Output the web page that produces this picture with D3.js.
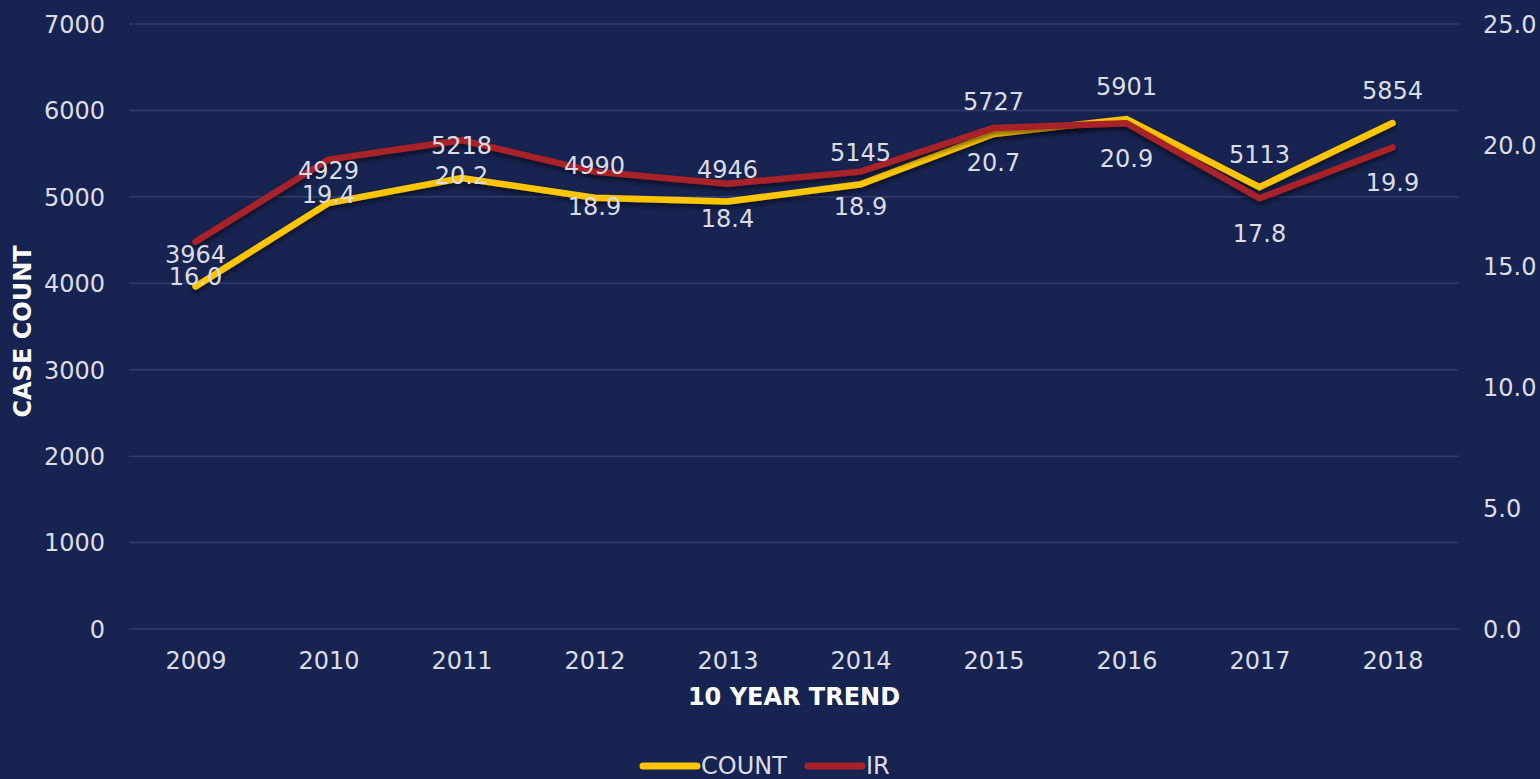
<!DOCTYPE html>
<html>
<head>
<meta charset="utf-8">
<script src="https://cdn.jsdelivr.net/npm/d3@7"></script>
<style>
  html, body { margin: 0; padding: 0; background: #172350; }
  svg { display: block; }
  text { font-family: "DejaVu Sans", Verdana, sans-serif; }
</style>
</head>
<body>
<svg id="chart" width="1540" height="779"></svg>
<script>
const years = ["2009","2010","2011","2012","2013","2014","2015","2016","2017","2018"];
const countValues = [3964,4929,5218,4990,4946,5145,5727,5901,5113,5854];
const irValues = [16.0,19.4,20.2,18.9,18.4,18.9,20.7,20.9,17.8,19.9];
const leftTicks = [0,1000,2000,3000,4000,5000,6000,7000];
const rightTicks = [0,5,10,15,20,25];
const seriesNames = ["COUNT","IR"];

const W = 1540, H = 779;
const plot = {left: 129, right: 1459, top: 24, bottom: 629};
const colors = {count: "#FFC600", ir: "#A8202A", text: "#DCDDE3", grid: "#323E69", bg: "#172350"};
const FS = 24;

const svg = d3.select("#chart");
svg.append("rect").attr("width", W).attr("height", H).attr("fill", colors.bg);

const defs = svg.append("defs");
const f = defs.append("filter").attr("id","shadow").attr("x","-5%").attr("y","-20%").attr("width","110%").attr("height","160%");
f.append("feDropShadow").attr("dx",0).attr("dy",3).attr("stdDeviation",2.5)
  .attr("flood-color","#000").attr("flood-opacity",0.55);

const x = d3.scalePoint().domain(years).range([plot.left, plot.right]).padding(0.5);
const yL = d3.scaleLinear().domain([0,7000]).range([plot.bottom, plot.top]);
const yR = d3.scaleLinear().domain([0,25]).range([plot.bottom, plot.top]);

// gridlines
svg.append("g").selectAll("line").data(leftTicks).join("line")
  .attr("x1", plot.left).attr("x2", plot.right)
  .attr("y1", d => yL(d)).attr("y2", d => yL(d))
  .attr("stroke", colors.grid).attr("stroke-width", 1.5);

// left axis
const gL = svg.append("g").attr("transform", `translate(105,0)`)
  .call(d3.axisLeft(yL).tickValues(leftTicks).tickSize(0).tickPadding(0).tickFormat(d3.format("d")));
gL.select(".domain").remove();
gL.selectAll("text").attr("fill", colors.text).style("font-size", FS + "px").attr("dy","0.35em");

// right axis
const gR = svg.append("g").attr("transform", `translate(1483,0)`)
  .call(d3.axisRight(yR).tickValues(rightTicks).tickSize(0).tickPadding(0).tickFormat(d3.format(".1f")));
gR.select(".domain").remove();
gR.selectAll("text").attr("fill", colors.text).style("font-size", FS + "px").attr("dy","0.35em");

// x axis
const gX = svg.append("g").attr("transform", `translate(0,661)`)
  .call(d3.axisBottom(x).tickSize(0).tickPadding(0));
gX.select(".domain").remove();
gX.selectAll("text").attr("fill", colors.text).style("font-size", FS + "px").attr("dy","0.35em");

// axis titles
svg.append("text").attr("x", (plot.left + plot.right) / 2).attr("y", 697).attr("dy","0.35em")
  .attr("text-anchor","middle").attr("fill","#fff").attr("font-weight","bold")
  .style("font-size","24px").text("10 YEAR TREND");
svg.append("text").attr("transform", `translate(23,${(plot.top + plot.bottom)/2 + 5}) rotate(-90)`)
  .attr("dy","0.35em").attr("text-anchor","middle").attr("fill","#fff").attr("font-weight","bold")
  .style("font-size","24px").text("CASE COUNT");

// lines
const lineC = d3.line().x((d,i) => x(years[i])).y(d => yL(d));
const lineI = d3.line().x((d,i) => x(years[i])).y(d => yR(d));

svg.append("path").datum(countValues).attr("d", lineC)
  .attr("fill","none").attr("stroke", colors.count).attr("stroke-width", 6.5)
  .attr("stroke-linecap","round").attr("stroke-linejoin","miter").attr("filter","url(#shadow)");
svg.append("path").datum(irValues).attr("d", lineI)
  .attr("fill","none").attr("stroke", colors.ir).attr("stroke-width", 6.5)
  .attr("stroke-linecap","round").attr("stroke-linejoin","miter").attr("filter","url(#shadow)");

// data labels
svg.append("g").selectAll("text").data(countValues).join("text")
  .attr("x", (d,i) => x(years[i])).attr("y", d => yL(d) - 32).attr("dy","0.35em")
  .attr("text-anchor","middle").attr("fill", colors.text).style("font-size", FS + "px")
  .text(d => d3.format("d")(d));
svg.append("g").selectAll("text").data(irValues).join("text")
  .attr("x", (d,i) => x(years[i])).attr("y", d => yR(d) + 35).attr("dy","0.35em")
  .attr("text-anchor","middle").attr("fill", colors.text).style("font-size", FS + "px")
  .text(d => d3.format(".1f")(d));

// legend
const legend = svg.append("g");
const legendItems = [
  {name: seriesNames[0], color: colors.count, x0: 643},
  {name: seriesNames[1], color: colors.ir, x0: 808}
];
legendItems.forEach(it => {
  legend.append("line").attr("x1", it.x0).attr("x2", it.x0 + 54).attr("y1", 766).attr("y2", 766)
    .attr("stroke", it.color).attr("stroke-width", 7).attr("stroke-linecap","round");
  legend.append("text").attr("x", it.x0 + 58).attr("y", 766).attr("dy","0.35em")
    .attr("fill", colors.text).style("font-size", FS + "px").text(it.name);
});
</script>
</body>
</html>
